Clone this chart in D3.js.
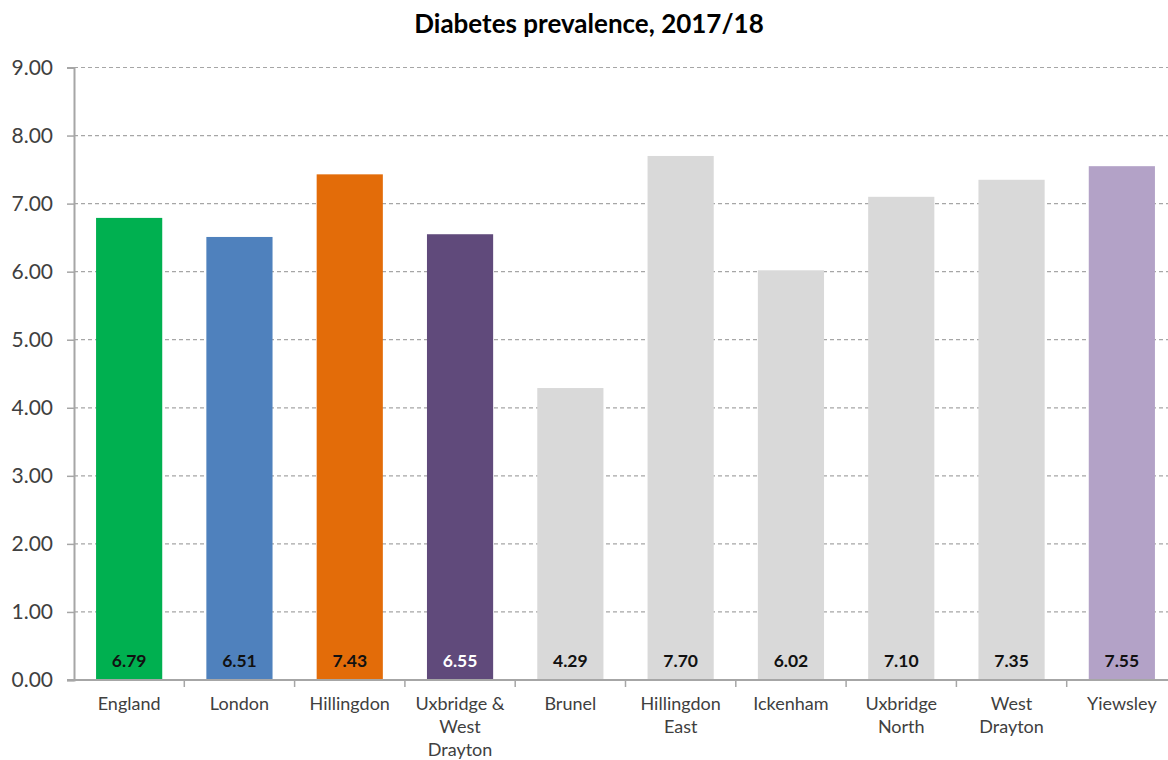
<!DOCTYPE html>
<html>
<head>
<meta charset="utf-8">
<script src="https://cdn.jsdelivr.net/npm/d3@7"></script>
<style>
  body { margin: 0; background: #fff; }
  svg text { font-family: Lato, "Open Sans", sans-serif; }
</style>
</head>
<body>
<svg id="chart" width="1168" height="760"></svg>
<script>
// data
var areas = ["England", "London", "Hillingdon", "Uxbridge & West Drayton", "Brunel",
  "Hillingdon East", "Ickenham", "Uxbridge North", "West Drayton", "Yiewsley"];
var areaLines = [["England"], ["London"], ["Hillingdon"], ["Uxbridge &", "West", "Drayton"], ["Brunel"],
  ["Hillingdon", "East"], ["Ickenham"], ["Uxbridge", "North"], ["West", "Drayton"], ["Yiewsley"]];
var prevalence = [6.79, 6.51, 7.43, 6.55, 4.29, 7.70, 6.02, 7.10, 7.35, 7.55];
var barColors = ["#00b050", "#4f81bd", "#e36c09", "#604a7b", "#d9d9d9",
  "#d9d9d9", "#d9d9d9", "#d9d9d9", "#d9d9d9", "#b3a2c7"];
var labelColors = ["#111", "#111", "#111", "#fff", "#111", "#111", "#111", "#111", "#111", "#111"];
var yTicks = [0, 1, 2, 3, 4, 5, 6, 7, 8, 9];

var svg = d3.select("#chart");

var x = d3.scaleBand()
  .domain(areas)
  .range([74, 1177])
  .paddingInner(0.4)
  .paddingOuter(0.2);

var y = d3.scaleLinear()
  .domain([0, 9])
  .range([680, 67.5]);

// title
svg.append("text")
  .attr("x", 589)
  .attr("y", 33)
  .attr("text-anchor", "middle")
  .style("font-size", "26px")
  .style("font-weight", "bold")
  .style("fill", "#000")
  .text("Diabetes prevalence, 2017/18");

// gridlines
svg.append("g").selectAll("line")
  .data(yTicks.slice(1))
  .enter().append("line")
  .attr("x1", 74)
  .attr("x2", 1168)
  .attr("y1", function(d) { return y(d); })
  .attr("y2", function(d) { return y(d); })
  .attr("stroke", "#a6a6a6")
  .attr("stroke-width", 1.2)
  .attr("stroke-dasharray", "4,3");

// bars
svg.append("g").selectAll("rect")
  .data(prevalence)
  .enter().append("rect")
  .attr("x", function(d, i) { return x(areas[i]); })
  .attr("width", x.bandwidth())
  .attr("y", function(d) { return y(d); })
  .attr("height", function(d) { return y(0) - y(d); })
  .attr("fill", function(d, i) { return barColors[i]; });

// value labels
svg.append("g").selectAll("text")
  .data(prevalence)
  .enter().append("text")
  .attr("x", function(d, i) { return x(areas[i]) + x.bandwidth() / 2; })
  .attr("y", 667)
  .attr("text-anchor", "middle")
  .style("font-size", "17.5px")
  .style("font-weight", "bold")
  .style("fill", function(d, i) { return labelColors[i]; })
  .text(function(d) { return d.toFixed(2); });

// y axis
var yAxis = svg.append("g")
  .attr("transform", "translate(74,0)")
  .call(d3.axisLeft(y).tickValues(yTicks).tickFormat(d3.format(".2f")).tickSize(7).tickPadding(14));
yAxis.select(".domain").attr("stroke", "#a6a6a6").attr("stroke-width", 2);
yAxis.selectAll(".tick line").attr("stroke", "#a6a6a6").attr("stroke-width", 1.5);
yAxis.selectAll(".tick text")
  .style("font-size", "21px")
  .style("fill", "#404040")
  .style("font-family", "Lato, sans-serif");

// x axis
var xAxis = svg.append("g")
  .attr("transform", "translate(0,680)");
xAxis.append("line")
  .attr("x1", 67).attr("x2", 1168)
  .attr("stroke", "#a6a6a6").attr("stroke-width", 2);
xAxis.selectAll(".sep")
  .data(areas)
  .enter().append("line")
  .attr("class", "sep")
  .attr("x1", function(d) { return x(d) - x.step() * x.paddingInner() / 2 + x.step(); })
  .attr("x2", function(d) { return x(d) - x.step() * x.paddingInner() / 2 + x.step(); })
  .attr("y1", 0).attr("y2", 7)
  .attr("stroke", "#a6a6a6").attr("stroke-width", 1.5);

var catLabels = xAxis.selectAll(".cat")
  .data(areaLines)
  .enter().append("text")
  .attr("class", "cat")
  .attr("text-anchor", "middle")
  .style("font-size", "18px")
  .style("fill", "#404040");
catLabels.each(function(lines, i) {
  var t = d3.select(this);
  lines.forEach(function(l, j) {
    t.append("tspan")
      .attr("x", x(areas[i]) + x.bandwidth() / 2)
      .attr("y", 30 + j * 23)
      .text(l);
  });
});
</script>
</body>
</html>
